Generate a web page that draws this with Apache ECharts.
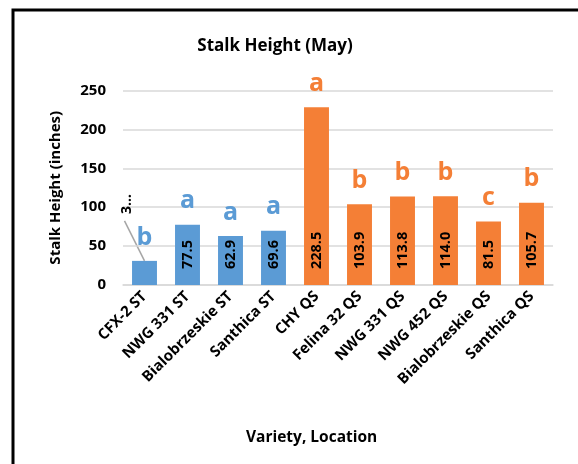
<!DOCTYPE html>
<html>
<head>
<meta charset="utf-8">
<script src="https://cdn.jsdelivr.net/npm/echarts@6/dist/echarts.min.js"></script>
<style>
  html, body { margin: 0; padding: 0; background: #fff; }
  #chart { width: 578px; height: 464px; }
</style>
</head>
<body>
<div id="chart"></div>
<script>
// Stalk height by variety and location (ST / QS)
const categories = ['CFX-2 ST', 'NWG 331 ST', 'Bialobrzeskie ST', 'Santhica ST', 'CHY QS',
  'Felina 32 QS', 'NWG 331 QS', 'NWG 452 QS', 'Bialobrzeskie QS', 'Santhica QS'];
const heights = [31.0, 77.5, 62.9, 69.6, 228.5, 103.9, 113.8, 114.0, 81.5, 105.7];
const locations = ['ST', 'ST', 'ST', 'ST', 'QS', 'QS', 'QS', 'QS', 'QS', 'QS'];
const letters = ['b', 'a', 'a', 'a', 'a', 'b', 'b', 'b', 'c', 'b'];
const yTicks = [0, 50, 100, 150, 200, 250];

const colors = { ST: '#5B9BD5', QS: '#F47F36' };
const font = '"Open Sans", "Liberation Sans", sans-serif';

const chart = echarts.init(document.getElementById('chart'));

// The first bar is too short for its value label, so the label is truncated
// and pulled up-left of the bar with a leader line.
const barData = heights.map((v, i) => ({
  value: v,
  itemStyle: { color: colors[locations[i]] },
  label: i === 0 ? {
    formatter: () => String(v).slice(0, 1) + '…',
    fontSize: 14
  } : undefined
}));

const letterData = heights.map((v, i) => ({
  value: v,
  label: { color: colors[locations[i]] }
}));

chart.setOption({
  animation: false,
  title: {
    text: 'Stalk Height (May)',
    left: 270, top: 33, textAlign: 'center',
    textStyle: { fontFamily: font, fontWeight: 'bold', fontSize: 17, color: '#000' }
  },
  graphic: [
    {
      id: 'frame', type: 'rect', silent: true,
      shape: { x: 13, y: 10, width: 620, height: 520 },
      style: { fill: null, stroke: '#000', lineWidth: 3 }
    },
    {
      id: 'xname', type: 'text', left: 246, top: 430,
      style: { text: 'Variety, Location', font: 'bold 15.5px ' + font, fill: '#000' }
    }
  ],
  grid: { left: 123, right: 25, top: 90.5, bottom: 179 },
  xAxis: {
    type: 'category',
    data: categories,
    axisLine: { lineStyle: { color: '#d9d9d9', width: 1.5 } },
    axisTick: { show: false },
    axisLabel: {
      rotate: 45, interval: 0, margin: 9,
      fontFamily: font, fontWeight: 'bold', fontSize: 15, color: '#000'
    }
  },
  yAxis: {
    type: 'value',
    min: yTicks[0], max: yTicks[yTicks.length - 1], interval: 50,
    name: 'Stalk Height (inches)',
    nameLocation: 'middle', nameGap: 60,
    nameTextStyle: { fontFamily: font, fontWeight: 'bold', fontSize: 15, color: '#000' },
    axisLine: { show: false },
    axisTick: { show: false },
    splitLine: { lineStyle: { color: '#d9d9d9', width: 1.5 } },
    axisLabel: { fontFamily: font, fontWeight: 'bold', fontSize: 15, color: '#000', margin: 17 }
  },
  series: [
    {
      type: 'bar',
      data: barData,
      barWidth: '58%',
      z: 2,
      label: {
        show: true,
        position: 'insideBottom',
        rotate: 90,
        align: 'left',
        verticalAlign: 'middle',
        distance: 16,
        formatter: p => p.value.toFixed(1),
        fontFamily: font, fontWeight: 'bold', fontSize: 14.5, color: '#000'
      },
      labelLayout: p => p.dataIndex === 0
        ? { x: p.rect.x - 5, y: p.rect.y - 47, align: 'left', verticalAlign: 'middle' }
        : {}
    },
    {
      type: 'bar',
      data: letterData,
      barWidth: '58%',
      barGap: '-100%',
      z: 1,
      itemStyle: { color: 'rgba(0,0,0,0)' },
      label: {
        show: true,
        position: 'top',
        distance: 11,
        formatter: p => letters[p.dataIndex],
        fontFamily: font, fontWeight: 'bold', fontSize: 25
      }
    }
  ]
});

// Leader line from the truncated label down to the top of the first bar
const top0 = chart.convertToPixel({ xAxisIndex: 0, yAxisIndex: 0 }, [0, heights[0]]);
chart.setOption({
  graphic: [
    {
      id: 'leader', type: 'line', silent: true,
      shape: { x1: top0[0] - 20, y1: top0[1] - 40, x2: top0[0], y2: top0[1] },
      style: { stroke: '#a6a6a6', lineWidth: 1.5 }
    }
  ]
});
</script>
</body>
</html>
